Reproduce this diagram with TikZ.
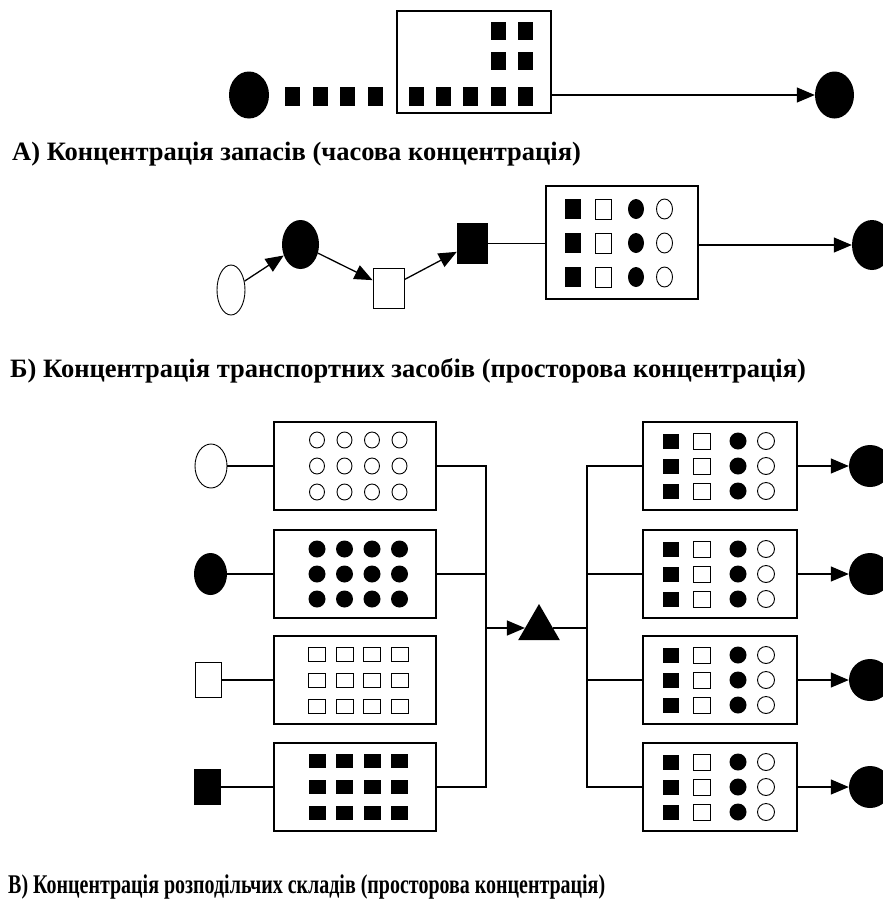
\documentclass[tikz,border=0pt]{standalone}
\usepackage{fontspec}
\setmainfont{Liberation Serif}
\newfontfamily\narrowfont[FakeStretch=0.74]{Liberation Serif}
\usetikzlibrary{shapes.geometric,arrows.meta}
\tikzset{
        sz/.style 2 args={minimum width=#1pt, minimum height=#2pt},
        fell/.style={ellipse, fill=black, inner sep=0pt},
        oell/.style={ellipse, draw=black, fill=white, line width=0.9pt, inner sep=0pt},
        fsq/.style={rectangle, fill=black, inner sep=0pt},
        osq/.style={rectangle, draw=black, fill=white, line width=0.9pt, inner sep=0pt},
        store/.style={rectangle, draw=black, line width=1.1pt, inner sep=0pt},
        hubtri/.style={regular polygon, regular polygon sides=3, fill=black, inner sep=0pt, minimum size=48pt},
        link/.style={draw=black, line width=1.3pt},
        arr/.style={link, -{Triangle[length=18pt,width=15pt]}},
        caption/.style={anchor=base west, inner sep=0pt, font=\bfseries\fontsize{26.5}{30}\selectfont}
          }
\begin{document}
\begin{tikzpicture}[x=1pt, y=-1pt]
  \useasboundingbox (0,0) rectangle (883,900);
  % A
  \node[fell, sz={40}{47}] (a0) at (249,95) {};
  \foreach \i in {0,...,3}
    \node[fsq, sz={15}{19}] (aq\i) at (292.5+27.7*\i,96.5) {};
  \node[store, sz={154}{102}] (abox) at (474,62) {};
  \foreach \i in {0,...,4}
    \node[fsq, sz={15}{19}] (ab\i) at (416+27.4*\i,96.5) {};
  \foreach \i in {3,4}
    \foreach \j/\y in {1/30.5,2/61}
      \node[fsq, sz={15}{18}] (ab\i-\j) at (416+27.4*\i,\y) {};
  \node[fell, sz={39}{47}] (a1) at (834.5,95) {};
  \draw[arr] (abox.east |- a1) -- (a1);
  \node[caption] (capa) at (12,160) {А) Концентрація запасів (часова концентрація)};
  % B
  \node[oell, sz={28}{50}] (b0) at (231,290) {};
  \node[fell, sz={37}{49}] (b1) at (300.5,244.5) {};
  \node[osq, sz={31}{40}] (b2) at (388.5,288) {};
  \node[fsq, sz={31}{41}] (b3) at (472.5,243.5) {};
  \node[store, sz={152}{113}] (bbox) at (622,242.5) {};
  \foreach \y [count=\j] in {209,243,277}{
    \node[fsq, sz={16}{20}] (bf\j) at (573,\y) {};
    \node[osq, sz={16}{20}] (bo\j) at (603.5,\y) {};
    \node[fell, sz={16}{20}] (bc\j) at (636,\y) {};
    \node[oell, sz={16}{20}] (be\j) at (664.5,\y) {};
  }
  \node[fell, sz={40}{50}] (b4) at (872,245) {};
  \draw[arr] (b0) -- (b1);
  \draw[arr] (b1) -- (b2);
  \draw[arr] (b2) -- (b3);
  \draw[link] (b3.east) -- (b3.east -| bbox.west);
  \draw[arr] (bbox.east |- b4) -- (b4);
  \node[caption] (capb) at (10,377) {Б) Концентрація транспортних засобів (просторова концентрація)};
  % C
  \node[oell, sz={32}{44}] (c1) at (211,466) {};
  \node[fell, sz={33}{42}] (c2) at (210.5,574) {};
  \node[osq, sz={26}{35}] (c3) at (208,680) {};
  \node[fsq, sz={27}{36}] (c4) at (207.5,787) {};
  \foreach \y [count=\k] in {466,574,680,787}{
    \node[store, sz={162}{88}] (cl\k) at (355,\y) {};
    \node[store, sz={154}{88}] (cr\k) at (720,\y) {};
    \draw[link] (c\k) -- (cl\k.west);
    \foreach \r in {-1,0,1}{
      \node[fsq, sz={16}{15}] (rf\k\r) at (671,\y+25*\r) {};
      \node[osq, sz={17}{16}] (ro\k\r) at (702,\y+25*\r) {};
      \node[fell, sz={17}{17}] (rc\k\r) at (738,\y+25*\r) {};
      \node[oell, sz={17}{17}] (re\k\r) at (766,\y+25*\r) {};
    }
    \node[fell, sz={42}{42}] (d\k) at (870,\y) {};
    \draw[arr] (cr\k.east) -- (d\k);
  }
  \foreach \i in {0,...,3}
    \foreach \r in {-1,0,1}{
      \node[oell, sz={15}{16}] (p1\i\r) at (317+27.5*\i,466+26*\r) {};
      \node[fell, sz={17}{17}] (p2\i\r) at (317+27.5*\i,574+25*\r) {};
      \node[osq, sz={17}{14}] (p3\i\r) at (317+27.5*\i,680+26*\r) {};
      \node[fsq, sz={17}{14}] (p4\i\r) at (317+27.5*\i,787+26*\r) {};
    }
  \coordinate (jl) at (486,628);
  \coordinate (jr) at (587,628);
  \node[hubtri] (hub) at (539,628) {};
  \draw[link] (cl1.east) -| (jl) |- (cl4.east);
  \draw[link] (cl2.east) -- (cl2.east -| jl);
  \draw[arr] (jl) -- (hub);
  \draw[link] (hub) -- (jr);
  \draw[link] (cr1.west) -| (jr) |- (cr4.west);
  \draw[link] (cr2.west) -- (cr2.west -| jr);
  \draw[link] (cr3.west) -- (cr3.west -| jr);
  \node[caption, font=\narrowfont\bfseries\fontsize{27}{30}\selectfont] (capc) at (8,893) {В) Концентрація розподільчих складів (просторова концентрація)};
\end{tikzpicture}
\end{document}
